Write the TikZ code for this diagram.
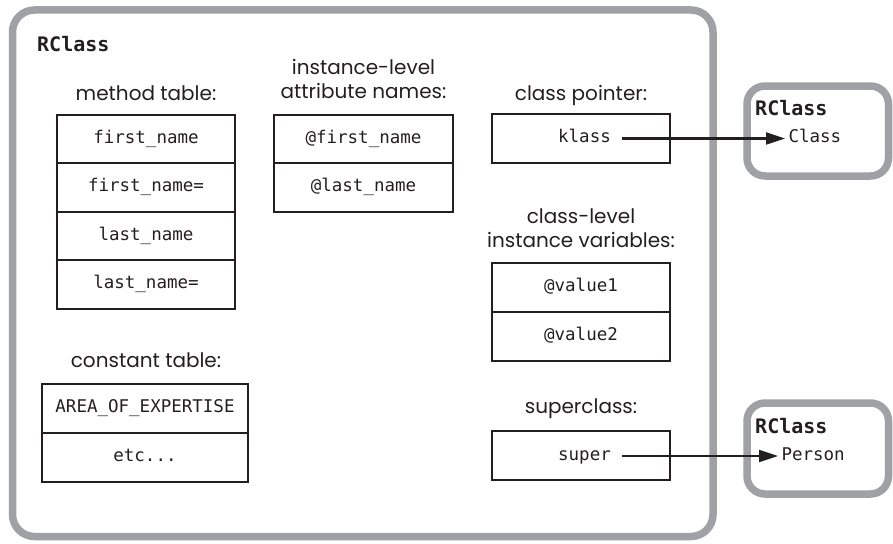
\documentclass[tikz,border=0pt]{standalone}
\usepackage{fontspec}
\usetikzlibrary{arrows.meta,positioning}
\newfontfamily\labelfont{Poppins}
\newfontfamily\codefont{DejaVu Sans Mono}
\definecolor{framegrey}{HTML}{9FA1A4}
\definecolor{inkblack}{HTML}{231F20}

\begin{document}
\begin{tikzpicture}[x=1pt,y=-1pt,
    frame/.style={draw=framegrey,line width=7.5pt,rounded corners=22pt,inner sep=0pt,outer sep=0pt},
    code/.style={font=\codefont\fontsize{17.5}{21}\selectfont,text=inkblack,text height=12pt,text depth=3.5pt},
    cell/.style={code,draw=inkblack,line width=2.2pt,minimum width=178pt,minimum height=48.5pt,inner sep=0pt,outer sep=0pt},
    ptrsrc/.style={code,inner xsep=11pt},
    caption/.style={font=\labelfont\fontsize{20}{24.5}\selectfont,align=center,text=inkblack,inner sep=0pt},
    heading/.style={font=\codefont\bfseries\fontsize{20}{24}\selectfont,text=inkblack,inner sep=0pt,anchor=west},
    pointer/.style={-{Triangle[length=19pt,width=12pt]},line width=2.2pt,draw=inkblack}]

  \useasboundingbox (0,0) rectangle (893,543);

  % object frames
  \node[frame,minimum width=700.5pt,minimum height=526.5pt] (rclass) at (362.75,273.25) {};
  \node[frame,rounded corners=18pt,minimum width=141.5pt,minimum height=90pt] (clsobj) at (817.75,131) {};
  \node[frame,rounded corners=18pt,minimum width=141.5pt,minimum height=91pt] (perobj) at (817.75,448.5) {};
  \node[heading] (rchead) at (37,44) {RClass};
  \node[heading] (clshead) at (755,108) {RClass};
  \node[heading] (perhead) at (755,426) {RClass};

  % method table
  \node[caption,anchor=base] (mtcap) at (146,100) {method table:};
  \node[cell] (m0) at (146,139) {first\_name};
  \node[cell,below=0pt of m0] (m1) {first\_name=};
  \node[cell,below=0pt of m1] (m2) {last\_name};
  \node[cell,below=0pt of m2] (m3) {last\_name=};

  % attribute names
  \node[caption,anchor=south] (atcap) at (363.5,99) {instance-level\\attribute names:};
  \node[cell,minimum width=179pt] (a0) at (363.5,139) {@first\_name};
  \node[cell,minimum width=179pt,below=0pt of a0] (a1) {@last\_name};

  % class pointer
  \node[caption,anchor=base] (ptrcap) at (581,100) {class pointer:};
  \node[cell] (ptrbox) at (581,138.5) {};
  \node[ptrsrc] (klass) at (584.5,138.5) {klass};
  \node[code,anchor=west] (cls) at (785,138.5) {Class};

  % class-level instance variables
  \node[caption,anchor=south] (ivcap) at (581,248) {class-level\\instance variables:};
  \node[cell,minimum height=49pt] (v0) at (581,287.5) {@value1};
  \node[cell,minimum height=49pt,below=0pt of v0] (v1) {@value2};

  % superclass
  \node[caption,anchor=base] (supcap) at (581,413) {superclass:};
  \node[cell] (supbox) at (581,455.5) {};
  \node[ptrsrc] (super) at (584.5,456) {super};
  \node[code,anchor=west] (per) at (778,456) {Person};

  % constant table
  \node[caption,anchor=base] (ctcap) at (146,367) {constant table:};
  \node[cell,minimum width=206pt,minimum height=49pt] (c0) at (145,408.5) {AREA\_OF\_EXPERTISE};
  \node[cell,minimum width=206pt,minimum height=49pt,below=0pt of c0] (c1) {etc...};

  \draw[pointer] (klass.east) -- (klass.east -| cls.west);
  \draw[pointer] (super.east) -- (super.east -| per.west);
\end{tikzpicture}
\end{document}
